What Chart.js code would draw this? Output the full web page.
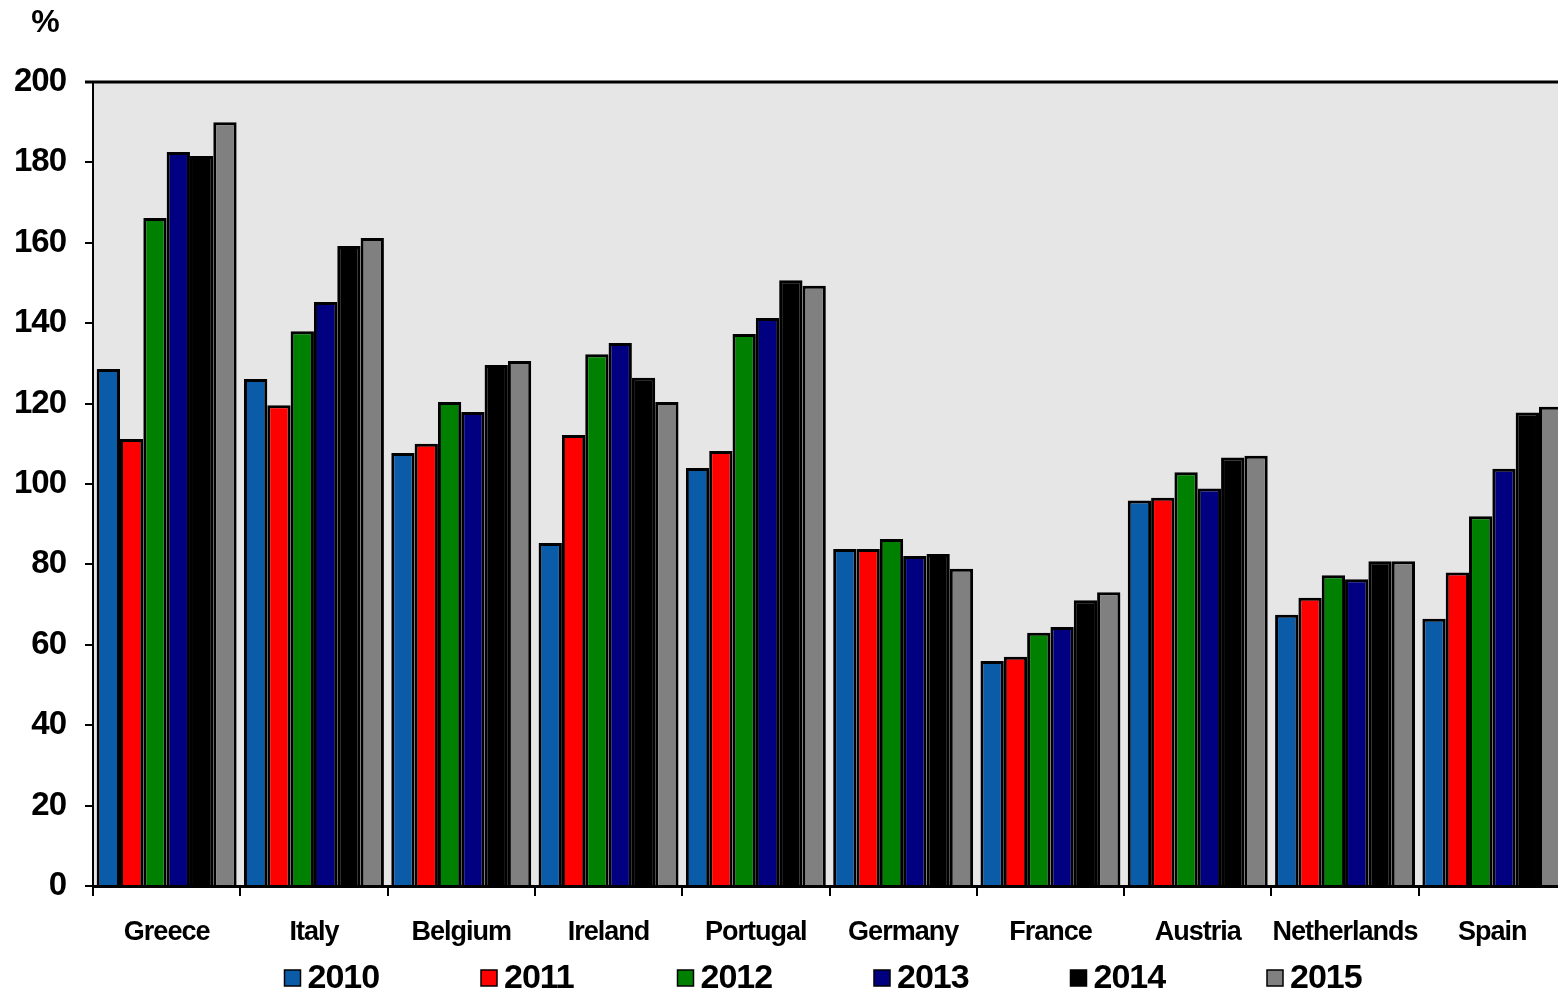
<!DOCTYPE html>
<html>
<head>
<meta charset="utf-8">
<script src="https://cdn.jsdelivr.net/npm/chart.js@4/dist/chart.umd.min.js"></script>
<style>
  html, body { margin: 0; padding: 0; background: #fff; overflow: hidden; }
  #wrap { width: 1566px; height: 995px; }
</style>
</head>
<body>
<div id="wrap"><canvas id="debt-chart"></canvas></div>
<script>
// data
const countries = ["Greece", "Italy", "Belgium", "Ireland", "Portugal", "Germany", "France", "Austria", "Netherlands", "Spain"];
const years = ["2010", "2011", "2012", "2013", "2014", "2015"];
const yearColors = ["#0a5ca8", "#ff0000", "#008000", "#000080", "#000000", "#808080"];

const v2010 = [128.6, 126.1, 107.7, 85.3, 104.0, 83.8, 56.0, 95.9, 67.5, 66.5];
const v2011 = [111.2, 119.6, 110.0, 112.2, 108.2, 83.8, 57.0, 96.6, 71.7, 78.0];
const v2012 = [166.2, 138.0, 120.4, 132.3, 137.3, 86.3, 63.0, 102.9, 77.3, 92.0];
const v2013 = [182.6, 145.3, 117.9, 135.1, 141.3, 82.1, 64.4, 98.9, 76.3, 103.8];
const v2014 = [181.6, 159.2, 129.6, 126.4, 150.7, 82.6, 71.1, 106.6, 80.8, 117.8];
const v2015 = [190.0, 161.2, 130.6, 120.4, 149.3, 78.9, 73.1, 107.0, 80.8, 119.2];
const series = [v2010, v2011, v2012, v2013, v2014, v2015];

const yTicksMin = 0;
const yTicksMax = 200;
const yTicksStep = 20;

const FONT = "'Liberation Sans', Arial, sans-serif";

// plot background, top border, % label and the legend
const decorPlugin = {
  id: "decor",
  beforeLayout(chart) {
    chart.ctx.letterSpacing = "-1px";
  },
  beforeDraw(chart) {
    const { ctx, chartArea: a } = chart;
    ctx.save();
    ctx.fillStyle = "#e6e6e6";
    ctx.fillRect(a.left, a.top, a.right - a.left, a.bottom - a.top);
    ctx.restore();
    chart.ctx.letterSpacing = "-1px";
  },
  afterDraw(chart) {
    const { ctx, chartArea: a } = chart;
    ctx.save();
    ctx.strokeStyle = "#000";
    ctx.lineWidth = 3;
    ctx.beginPath();
    ctx.moveTo(a.left - 8, a.top);
    ctx.lineTo(a.right, a.top);
    ctx.stroke();

    ctx.letterSpacing = "-1px";
    ctx.fillStyle = "#000";
    ctx.font = "bold 32px " + FONT;
    ctx.textAlign = "center";
    ctx.textBaseline = "middle";
    ctx.fillText("%", a.left - 48, a.top - 59);

    // legend
    const pitch = 196.5;
    const mid = (a.left + a.right) / 2;
    const start = mid - 545;
    const y = 978;
    ctx.font = "bold 34px " + FONT;
    ctx.textAlign = "left";
    chart.data.datasets.forEach((ds, i) => {
      const x = start + i * pitch;
      ctx.fillStyle = ds.backgroundColor;
      ctx.fillRect(x, y - 8, 16, 16);
      ctx.lineWidth = 1.5;
      ctx.strokeStyle = "#000";
      ctx.strokeRect(x, y - 8, 16, 16);
      ctx.fillStyle = "#000";
      ctx.fillText(ds.label, x + 23, y + 1);
    });
    ctx.restore();
  },
};

const chart = new Chart(document.getElementById("debt-chart"), {
  type: "bar",
  plugins: [decorPlugin],
  data: {
    labels: countries,
    datasets: years.map((yr, i) => ({
      label: yr,
      data: series[i],
      backgroundColor: yearColors[i],
      borderColor: "#000",
      borderWidth: 3,
      borderSkipped: "bottom",
      categoryPercentage: 0.95,
      barPercentage: 1.0,
    })),
  },
  options: {
    responsive: true,
    maintainAspectRatio: false,
    animation: false,
    layout: { padding: { top: 82, left: 0, right: 0, bottom: 0 } },
    plugins: {
      legend: { display: false },
      tooltip: { enabled: false },
    },
    scales: {
      x: {
        afterFit: (scale) => { scale.height = 109; },
        grid: {
          offset: true,
          drawOnChartArea: false,
          drawTicks: true,
          tickLength: 10,
          color: "#000",
          lineWidth: 2,
        },
        border: { display: true, color: "#000", width: 3 },
        ticks: {
          color: "#000",
          padding: 20,
          maxRotation: 0,
          autoSkip: false,
          font: { family: FONT, size: 27, weight: "bold" },
        },
      },
      y: {
        min: yTicksMin,
        max: yTicksMax,
        afterFit: (scale) => { scale.width = 93; },
        grid: {
          drawOnChartArea: false,
          drawTicks: true,
          tickLength: 8,
          color: "#000",
          lineWidth: 2,
        },
        border: { display: true, color: "#000", width: 2 },
        ticks: {
          stepSize: yTicksStep,
          color: "#000",
          padding: 19,
          font: { family: FONT, size: 33, weight: "bold" },
        },
      },
    },
  },
});
</script>
</body>
</html>
